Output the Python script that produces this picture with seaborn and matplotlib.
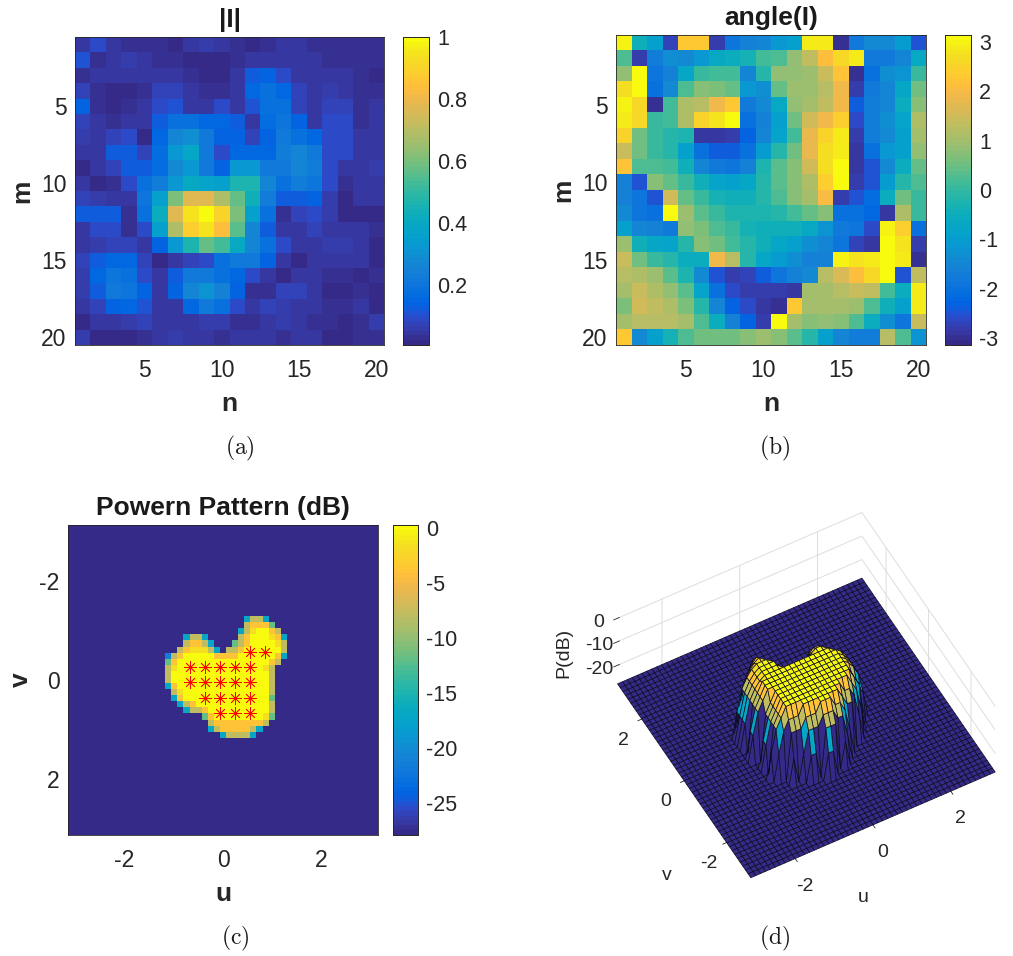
import numpy as np
import pandas as pd
import matplotlib
matplotlib.use("Agg")
import matplotlib.pyplot as plt
from matplotlib.colors import ListedColormap
import seaborn as sns

sns.set_theme(style="white")
plt.rcParams['font.family'] = ['Liberation Sans', 'DejaVu Sans']
plt.rcParams['mathtext.fontset'] = 'cm'

PARULA = ListedColormap([
 [0.2081,0.1663,0.5292],[0.2116,0.1898,0.5777],[0.2123,0.2138,0.6270],[0.2081,0.2386,0.6771],
 [0.1959,0.2645,0.7279],[0.1707,0.2919,0.7792],[0.1253,0.3242,0.8303],[0.0591,0.3598,0.8683],
 [0.0117,0.3875,0.8820],[0.0060,0.4086,0.8828],[0.0165,0.4266,0.8786],[0.0329,0.4430,0.8720],
 [0.0498,0.4586,0.8641],[0.0629,0.4737,0.8554],[0.0723,0.4887,0.8467],[0.0779,0.5040,0.8384],
 [0.0793,0.5200,0.8312],[0.0749,0.5375,0.8263],[0.0641,0.5570,0.8240],[0.0488,0.5772,0.8228],
 [0.0343,0.5966,0.8199],[0.0265,0.6137,0.8135],[0.0239,0.6287,0.8038],[0.0231,0.6418,0.7913],
 [0.0228,0.6535,0.7768],[0.0267,0.6642,0.7607],[0.0384,0.6743,0.7436],[0.0590,0.6838,0.7254],
 [0.0843,0.6928,0.7062],[0.1133,0.7015,0.6859],[0.1453,0.7098,0.6646],[0.1801,0.7177,0.6424],
 [0.2178,0.7250,0.6193],[0.2586,0.7317,0.5954],[0.3022,0.7376,0.5712],[0.3482,0.7424,0.5473],
 [0.3953,0.7459,0.5244],[0.4420,0.7481,0.5033],[0.4871,0.7491,0.4840],[0.5300,0.7491,0.4661],
 [0.5709,0.7485,0.4494],[0.6099,0.7473,0.4337],[0.6473,0.7456,0.4188],[0.6834,0.7435,0.4044],
 [0.7184,0.7411,0.3905],[0.7525,0.7384,0.3768],[0.7858,0.7356,0.3633],[0.8185,0.7327,0.3498],
 [0.8507,0.7299,0.3360],[0.8824,0.7274,0.3217],[0.9139,0.7258,0.3063],[0.9450,0.7261,0.2886],
 [0.9739,0.7314,0.2666],[0.9938,0.7455,0.2403],[0.9990,0.7653,0.2164],[0.9955,0.7861,0.1967],
 [0.9880,0.8066,0.1794],[0.9789,0.8271,0.1633],[0.9697,0.8481,0.1475],[0.9626,0.8705,0.1309],
 [0.9589,0.8949,0.1132],[0.9598,0.9218,0.0948],[0.9661,0.9514,0.0755],[0.9763,0.9831,0.0538]])

magnitude = [
 [.05,.10,.04,.03,.03,.03,.02,.05,.06,.04,.03,.02,.03,.04,.04,.03,.03,.03,.03,.03],
 [.11,.03,.04,.06,.04,.03,.03,.02,.02,.02,.03,.04,.04,.05,.05,.04,.03,.03,.03,.03],
 [.03,.04,.04,.04,.04,.05,.05,.03,.02,.02,.05,.12,.14,.09,.05,.04,.04,.04,.03,.02],
 [.07,.03,.02,.02,.03,.07,.08,.04,.03,.03,.05,.15,.19,.16,.07,.04,.06,.05,.03,.03],
 [.14,.03,.02,.03,.05,.09,.11,.05,.05,.09,.04,.11,.19,.18,.08,.04,.08,.07,.03,.05],
 [.07,.04,.03,.04,.04,.12,.19,.19,.15,.15,.12,.05,.17,.20,.14,.05,.10,.10,.03,.04],
 [.06,.04,.07,.10,.02,.15,.27,.30,.21,.14,.14,.08,.14,.22,.19,.15,.10,.10,.05,.04],
 [.04,.04,.12,.13,.07,.17,.33,.39,.22,.09,.16,.16,.16,.24,.27,.21,.10,.10,.04,.05],
 [.02,.05,.08,.13,.13,.17,.28,.33,.21,.14,.32,.32,.22,.22,.27,.24,.10,.04,.04,.06],
 [.04,.02,.03,.09,.19,.23,.33,.40,.37,.35,.46,.46,.27,.19,.23,.20,.10,.03,.04,.04],
 [.08,.06,.04,.04,.20,.36,.60,.78,.78,.68,.58,.44,.24,.13,.13,.14,.06,.02,.04,.04],
 [.12,.12,.12,.03,.19,.42,.78,.95,1.0,.90,.60,.36,.19,.03,.07,.10,.06,.02,.02,.02],
 [.04,.09,.09,.03,.09,.36,.69,.88,.94,.83,.56,.26,.13,.05,.05,.07,.04,.04,.04,.03],
 [.04,.06,.07,.07,.04,.14,.33,.47,.58,.53,.40,.26,.18,.09,.04,.04,.06,.06,.05,.02],
 [.07,.12,.16,.15,.08,.02,.05,.07,.09,.18,.21,.21,.14,.05,.02,.04,.04,.04,.04,.02],
 [.06,.15,.20,.18,.10,.04,.13,.21,.22,.18,.15,.10,.04,.02,.04,.04,.03,.03,.02,.03],
 [.06,.12,.21,.20,.14,.04,.14,.26,.31,.25,.14,.03,.03,.07,.07,.04,.02,.02,.03,.02],
 [.04,.08,.14,.16,.11,.05,.05,.15,.21,.19,.09,.04,.07,.06,.05,.04,.03,.03,.05,.02],
 [.02,.04,.04,.06,.07,.05,.04,.05,.06,.06,.03,.03,.05,.06,.05,.03,.03,.02,.03,.06],
 [.06,.02,.01,.01,.03,.05,.06,.05,.04,.03,.04,.05,.04,.03,.04,.04,.02,.02,.03,.03]]

phase = [
 [3.0,-.4,-.9,-2.7,2.3,2.3,-2.8,-1.9,-1.6,-1.5,-1.1,-.9,2.9,2.9,-3.0,-1.8,-1.4,-1.4,-1.0,-2.5],
 [.2,-2.8,-1.7,-1.3,-1.4,-1.1,-.6,-.5,-.3,.1,.2,.8,1.3,2.1,2.6,2.9,-1.8,-1.8,-1.5,-.6],
 [.8,3.1,-1.9,-1.6,-.7,0,.1,.1,-1.5,-.1,.8,.8,.9,1.4,2.2,-3.0,-2.0,-1.3,-1.2,0],
 [2.7,3.1,-2.0,-1.4,.2,.7,.6,.4,-1.1,-1.3,.4,.9,.9,1.2,1.9,-2.8,-1.8,-1.5,-.7,.5],
 [3.0,2.6,-3.0,.1,1.1,1.2,1.9,2.3,-1.8,-1.4,-.6,.8,1.0,1.3,1.9,-2.4,-1.7,-1.5,-.5,.7],
 [2.9,2.6,0,.1,1.1,2.5,2.8,3.1,-2.0,-1.6,-.9,.5,1.5,1.9,2.4,-2.6,-1.7,-1.3,-.8,1.1],
 [2.5,.5,0,-.1,-.2,-2.9,-2.9,-2.8,-2.3,-1.5,-.8,.1,1.8,2.5,2.9,-2.8,-1.7,-1.4,-.9,1.0],
 [1.4,.5,0,-.1,-.9,-2.0,-2.4,-2.4,-2.0,-1.0,-.1,.5,1.8,2.7,2.9,-2.9,-2.0,-1.1,-.9,.8],
 [2.2,.2,.2,.1,-.4,-1.5,-1.8,-1.9,-1.6,-.2,.3,.7,1.5,2.7,3.1,-2.9,-2.5,-1.4,-.5,.4],
 [-1.6,-2.5,.7,.4,0,-.4,-.8,-.9,-.7,-.1,.3,.7,1.1,2.4,3.1,-2.8,-2.5,-1.0,-.1,.2],
 [-1.6,-1.9,-2.5,1.5,.4,0,-.3,-.4,-.4,-.1,.2,.7,1.0,2.0,-2.8,-2.5,-2.1,-.5,.5,0],
 [-1.4,-1.9,-2.0,3.1,.9,.3,0,-.2,-.2,-.2,-.1,.1,.4,.7,-2.0,-2.0,-2.2,-2.9,1.1,0],
 [-.9,-1.5,-1.6,-1.8,.8,.6,.2,0,-.3,-.4,-.4,-.4,-.6,-1.2,-1.8,-1.9,-2.6,3.0,2.4,-2.0],
 [.9,-.4,-.7,-.8,-.1,.7,.5,.1,-.1,-.4,-.7,-.9,-1.3,-1.5,-1.9,-2.7,-2.9,3.1,2.8,-2.8],
 [1.4,.5,0,-.1,-.5,-.5,1.9,1.2,-.1,-.7,-1.0,-1.3,-1.6,-1.6,3.0,2.8,2.9,3.1,2.9,-3.0],
 [1.2,1.1,.9,.3,-.2,-1.4,-2.5,-2.8,-2.7,-2.4,-1.9,-1.6,-1.4,1.2,1.6,2.1,2.6,3.1,-2.5,1.3],
 [1.0,1.4,1.1,.8,.3,-.8,-2.0,-2.6,-2.8,-2.8,-2.8,-2.9,1.0,1.0,1.2,1.4,1.3,.1,-.5,2.9],
 [.6,1.5,1.3,1.1,.6,-.1,-1.5,-2.3,-2.6,-2.9,-3.0,2.3,1.0,1.0,1.0,.9,.2,-.4,-.9,2.9],
 [1.0,1.2,1.2,1.2,1.0,.2,-.5,-1.6,-2.3,-2.8,3.1,1.0,.7,.8,.7,.2,-.5,-1.3,-1.9,1.4],
 [2.3,-1.4,-.9,-.3,.2,.5,.5,.5,.7,.9,.7,.3,-.1,-.9,-1.5,-1.7,-1.7,1.2,.2,-1.2]]

# Power pattern read cell by cell around the main lobe (dB levels by letter)
floor_db = -27.9
top_db = .3
levels = {'Y':0.0,'y':-1.5,'O':-4.0,'K':-8.0,'G':-12.0,'T':-17.0,'B':-21.5,'.':floor_db}
lobe_rows = [
 ".............TKKT...",
 ".............KOOOG..",
 "............TKyYYOK.",
 "...TKKT.....KOYYYyOT",
 "...KOOKT...GKOYYYYyK",
 "..KOyyyKT.KKOYYYYYYK",
 "BKOYYYYYOOOOYYYYYYOT",
 "GOYYYYYYYYYYYYYYYOK.",
 "KyYYYYYYYYYYYYYYyK..",
 "KYYYYYYYYYYYYYYYYK..",
 "KYYYYYYYYYYYYYYYYK..",
 "TOYYYYYYYYYYYYYYYK..",
 ".KyYYYYYYYYYYYYYYK..",
 ".TOYYYYYYYYYYYYYYG..",
 "..TKOYYYYYYYYYYYYK..",
 "...TKKOYYYYYYYYYYK..",
 "......GOYYYYYYYYyG..",
 ".......KOOOOOOOOK...",
 ".......TKOOOOOKT....",
 ".........TKKKKT.....",
]
lobe_row0, lobe_col0, n_grid = 15, 16, 51
star_u = [.55,.86, -.67,-.36,-.06,.25,.55, -.67,-.36,-.06,.25,.55, -.36,-.06,.25,.55, -.06,.25,.55]
star_v = [-.57,-.57, -.26,-.26,-.26,-.26,-.26, .05,.05,.05,.05,.05, .36,.36,.36,.36, .67,.67,.67]

# Surface in panel (d); first row is the largest v
surface_rows = [
 ".....T....................",
 "....TKT...................",
 "...TKOKT..................",
 "..TKOyOKT......TT.........",
 ".TKOyYyOKT....TKKT........",
 "TKOyYYYyOKTTTTKOOKT.......",
 "TKOyYYYYOKKKKKOyyOKT......",
 "TKOyYYYYyOOOOOyYYyOKT.....",
 "TKOyYYYYYYYYYYYYYYyOKT....",
 ".KOYYYYYYYYYYYYYYYYyOKT...",
 "TKOYYYYYYYYYYYYYYYYyOK....",
 "TKOYYYYYYYYYYYYYYYYyOKT...",
 "..KOYYYYYYYYYYYYYYYyOKT...",
 ".TKOYYYYYYYYYYYYYYYOKT....",
 ".TKOYYYYYYYYYYYYYYYOK.....",
 "..KOYYYYYYYYYYYYYYOKT.....",
 ".TKOYYYYYYYYYYYYOOKT......",
 "..TKOOOYYYYYYYYOKK........",
 "....KKKOOOYYYOOKT.........",
 "....T.TKKKOOOKKT..........",
 ".......TT.KKK.T...........",
 "..........TT..............",
]
surface_row_top, surface_col0 = 34, 13

power = np.full((n_grid, n_grid), floor_db)
for i, row in enumerate(lobe_rows):
    for j, ch in enumerate(row):
        power[lobe_row0 + i, lobe_col0 + j] = levels[ch]

surface = np.full((n_grid, n_grid), floor_db)
for i, row in enumerate(surface_rows):
    for j, ch in enumerate(row):
        surface[surface_row_top - i, surface_col0 + j] = levels[ch]

W, H = 1013, 956
fig = plt.figure(figsize=(W/100, H/100), dpi=100)
def rect(x0, y0, x1, y1):
    return [x0/W, 1-y1/H, (x1-x0)/W, (y1-y0)/H]

DARK = '#262626'
TICK_FS = 16.5
CBAR_FS = 15.5
LAB_FS = 19

def style(ax, cax, title, xl, yl, cticks, clabels):
    for s in ax.spines.values():
        s.set_visible(True); s.set_color(DARK); s.set_linewidth(.6)
    ax.tick_params(direction='in', length=3, width=.6, color=DARK, top=True, right=True,
                   labelsize=TICK_FS, labelcolor=DARK, rotation=0)
    ax.tick_params(axis='x', pad=10)
    ax.tick_params(axis='y', pad=6)
    ax.set_title(title, fontsize=LAB_FS, fontweight='bold', color='k', pad=7)
    ax.set_xlabel(xl, fontsize=LAB_FS, fontweight='bold', color=DARK, labelpad=7)
    ax.set_ylabel(yl, fontsize=LAB_FS, fontweight='bold', color=DARK, labelpad=5)
    cax.set_yticks(cticks, labels=clabels)
    cax.tick_params(direction='in', length=3, width=.6, color=DARK, labelsize=CBAR_FS,
                    labelcolor=DARK, left=True, right=True, pad=6)
    for s in cax.spines.values():
        s.set_visible(True); s.set_color(DARK); s.set_linewidth(.6)

def matrix_panel(mat, axr, caxr, vmin, vmax, title, cticks, clabels):
    ax = fig.add_axes(rect(*axr)); cax = fig.add_axes(rect(*caxr))
    df = pd.DataFrame(mat, index=range(1, 21), columns=range(1, 21))
    sns.heatmap(df, ax=ax, cbar_ax=cax, cmap=PARULA, vmin=vmin, vmax=vmax,
                xticklabels=False, yticklabels=False)
    pos = np.array([5, 10, 15, 20]) - .5
    ax.set_xticks(pos, labels=['5', '10', '15', '20'])
    ax.set_yticks(pos, labels=['5', '10', '15', '20'])
    style(ax, cax, title, 'n', 'm', cticks, clabels)
    return ax

matrix_panel(magnitude, (75, 37, 384, 345), (403, 37, 429, 345), .008, 1, '|I|',
             [.2, .4, .6, .8, 1], ['0.2', '0.4', '0.6', '0.8', '1'])
matrix_panel(phase, (616, 35, 926, 345), (945, 35, 971, 345), -np.pi, np.pi, 'angle(I)',
             [-3, -2, -1, 0, 1, 2, 3], ['-3', '-2', '-1', '0', '1', '2', '3'])

# Panel c
axc = fig.add_axes(rect(68, 525, 378, 835)); caxc = fig.add_axes(rect(393, 525, 418, 835))
sns.heatmap(pd.DataFrame(power), ax=axc, cbar_ax=caxc, cmap=PARULA, vmin=floor_db, vmax=top_db,
            xticklabels=False, yticklabels=False)
def to_cell(x):
    return (np.asarray(x, float) + np.pi) / (2*np.pi) * n_grid
axc.set_xticks(to_cell([-2, 0, 2]), labels=['-2', '0', '2'])
axc.set_yticks(to_cell([-2, 0, 2]), labels=['-2', '0', '2'])
axc.scatter(to_cell(star_u), to_cell(star_v), marker=(8, 2, 0), s=75, c='#ff0000', linewidths=.55, zorder=5)
style(axc, caxc, 'Powern Pattern (dB)', 'u', 'v', [-25, -20, -15, -10, -5, 0],
      ['-25', '-20', '-15', '-10', '-5', '0'])

# Panel d
axd = fig.add_axes(rect(583.5, 484, 1017.5, 918), projection='3d', proj_type='ortho')
grid = np.linspace(-np.pi, np.pi, n_grid)
U, V = np.meshgrid(grid, grid)
Z = surface
Zmin = Z.copy()
Zmin[:-1, :-1] = np.minimum.reduce([Z[:-1, :-1], Z[1:, :-1], Z[:-1, 1:], Z[1:, 1:]])
norm = plt.Normalize(floor_db, top_db)
axd.plot_surface(U, V, Z, rstride=1, cstride=1, facecolors=PARULA(norm(Zmin)), shade=False,
                 edgecolor='#0c0c22', linewidth=.5, antialiased=True)
axd.view_init(elev=52.5, azim=-118.6)
axd.set_xlim(-np.pi, np.pi); axd.set_ylim(-np.pi, np.pi); axd.set_zlim(floor_db, 0)
axd.set_box_aspect((1, 1, .387), zoom=.913)
axd.set_xticks([-2, 0, 2], labels=['-2', '0', '2'])
axd.set_yticks([-2, 0, 2], labels=['-2', '0', '2'])
axd.set_zticks([-20, -10, 0], labels=['-20', '-10', '0'])
for a in (axd.xaxis, axd.yaxis, axd.zaxis):
    a.set_pane_color((1, 1, 1, 0))
    a.pane.set_edgecolor((1, 1, 1, 0))
    a.line.set_color((1, 1, 1, 0))
    a._axinfo['grid'].update(color='#dddddd', linewidth=.7)
    a._axinfo['tick'].update(color=DARK, linewidth={True: .6, False: .4})
axd.tick_params(labelsize=14, labelcolor=DARK, pad=4)
axd.tick_params(axis='z', pad=0)
fig.text(564/W, 1-653/H, 'P(dB)', fontsize=14, color=DARK, rotation=90, ha='center', va='center')
fig.text(667/W, 1-875/H, 'v', fontsize=14, color=DARK, ha='center', va='center')
fig.text(863/W, 1-897/H, 'u', fontsize=14, color=DARK, ha='center', va='center')

for lab, x, y in [('a', 240, 448), ('b', 775, 448), ('c', 235, 938), ('d', 775, 938)]:
    fig.text(x/W, 1-y/H, r'$\mathrm{(%s)}$' % lab, fontsize=17, color='k', ha='center', va='center')

fig.savefig('out.png', dpi=100, facecolor='white')
